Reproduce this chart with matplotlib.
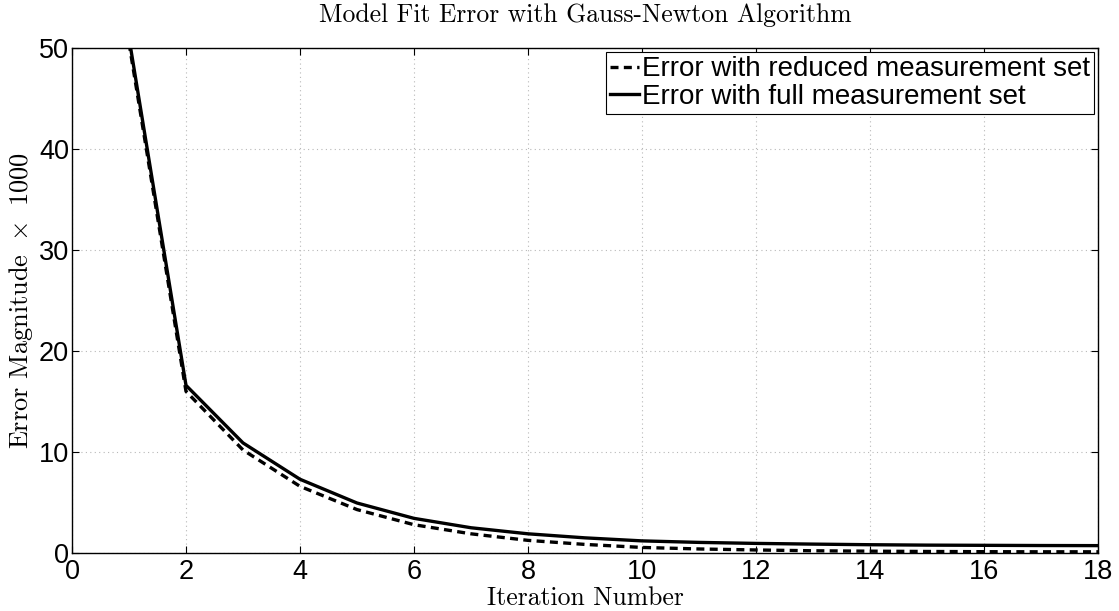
import matplotlib
matplotlib.use("Agg")
import matplotlib.pyplot as plt

iterations = list(range(1, 19))
err_full = [51.0, 16.6, 10.9, 7.3, 4.95, 3.43, 2.5, 1.9, 1.5, 1.2, 1.05, 0.95,
            0.88, 0.82, 0.78, 0.76, 0.74, 0.73]
err_reduced = [50.5, 16.0, 10.2, 6.6, 4.3, 2.8, 1.9, 1.25, 0.85, 0.55, 0.4, 0.3,
               0.22, 0.18, 0.15, 0.13, 0.12, 0.12]
x_ticks = list(range(0, 19, 2))
y_ticks = list(range(0, 51, 10))

plt.rcParams['mathtext.fontset'] = 'cm'
plt.rcParams['axes.unicode_minus'] = False

fig = plt.figure(figsize=(11.19, 6.11), dpi=100)
ax = fig.add_axes([72/1119, 1 - 553/611, (1098-72)/1119, (553-48)/611])

ax.plot(iterations, err_reduced, color='black', linestyle=(0, (2.4, 1.6)), lw=2.4,
        label='Error with reduced measurement set')
ax.plot(iterations, err_full, color='black', linestyle='-', lw=2.4,
        label='Error with full measurement set')

ax.set_xlim(0, 18)
ax.set_ylim(0, 50)
ax.set_xticks(x_ticks)
ax.set_yticks(y_ticks)
ax.tick_params(direction='in', top=True, right=True, length=5, width=0.8,
               labelsize=19.5)
ax.tick_params(axis='x', pad=4)
ax.tick_params(axis='y', pad=2)
for lab in ax.get_xticklabels() + ax.get_yticklabels():
    lab.set_fontfamily('Liberation Sans')
ax.grid(True, color='#b8b8b8', linestyle=(0, (1, 3)), lw=0.8)
for s in ax.spines.values():
    s.set_linewidth(1.0)

ax.set_title('Model Fit Error with Gauss-Newton Algorithm', fontfamily='cmr10',
             fontsize=18.5, pad=19)
ax.set_xlabel('Iteration Number', fontfamily='cmr10', fontsize=18.5, labelpad=1)
ax.set_ylabel(r'Error Magnitude $\:\times\:$ 1000', fontfamily='cmr10', fontsize=19,
              labelpad=3)

leg = ax.legend(loc='upper right', prop={'family': 'Liberation Sans', 'size': 20},
                fancybox=False, framealpha=1, edgecolor='black',
                handlelength=1.05, handletextpad=0.08, borderpad=0.15,
                labelspacing=0.05, borderaxespad=0.15)
leg.get_frame().set_linewidth(0.8)

fig.savefig('out.png', dpi=100)
